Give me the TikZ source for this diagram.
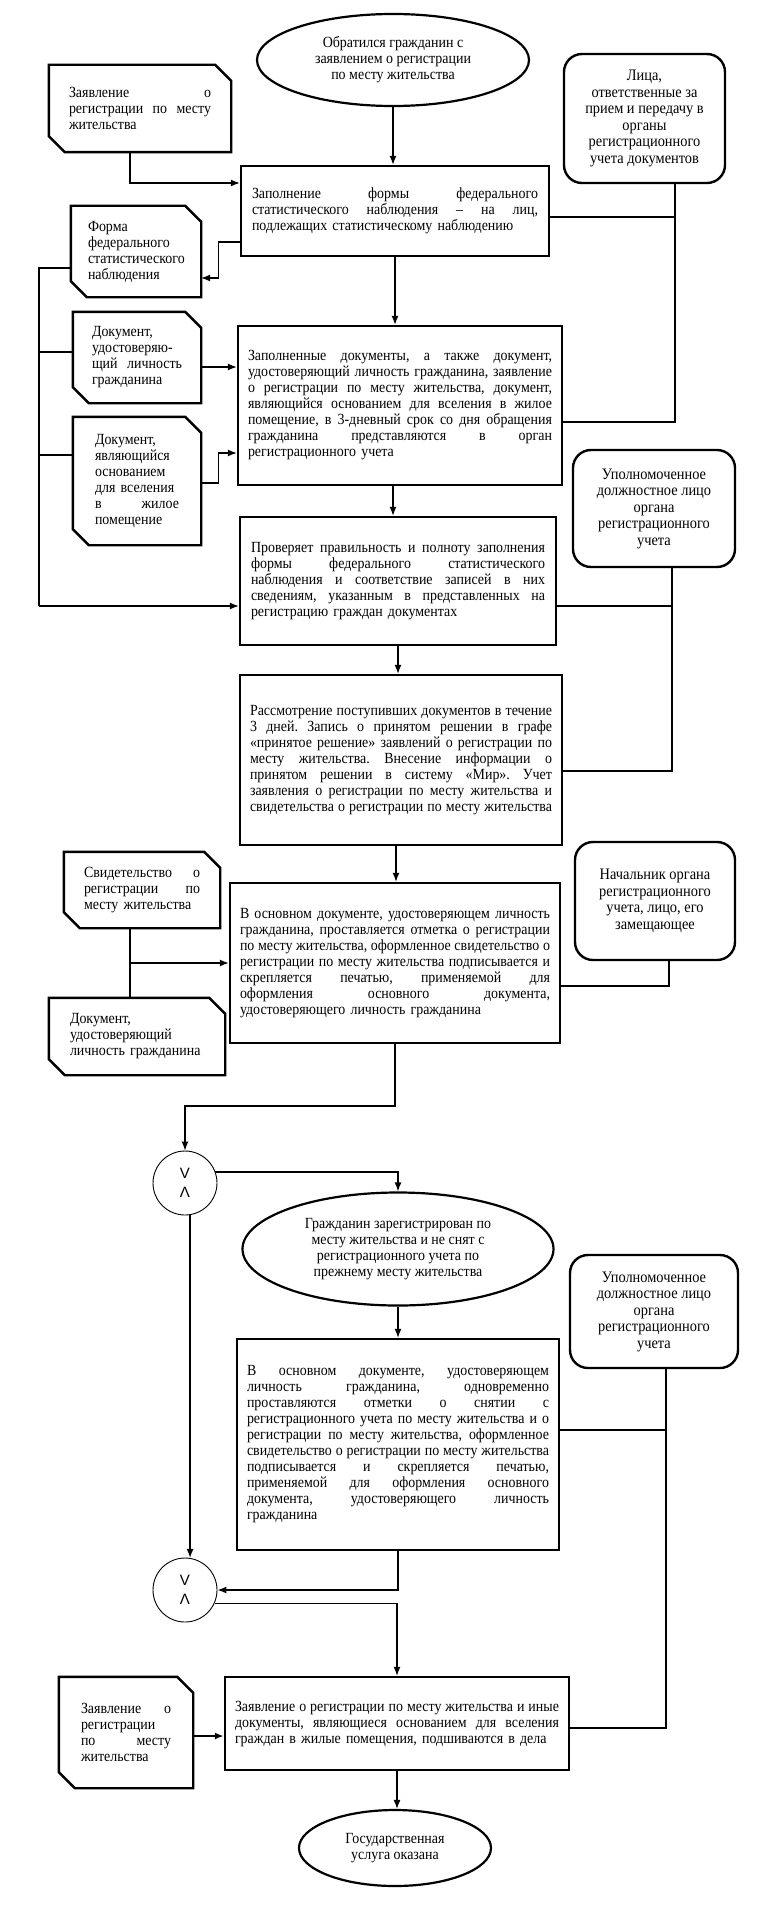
\documentclass[tikz,border=0pt]{standalone}
\usepackage{fontspec}
\setmainfont{Liberation Serif}[FakeStretch=0.9]
\newfontfamily\gatefont{Liberation Sans}
\usetikzlibrary{arrows.meta,shapes.geometric,calc}
\frenchspacing
\newcommand\boxfont{\fontsize{15.5}{16}\selectfont\frenchspacing}
\newcommand\rfont{\fontsize{16}{16.5}\selectfont\frenchspacing}
\newcommand\jl[1]{{\spaceskip=0pt\xspaceskip=0pt\makebox[\linewidth][s]{#1}}}
\newcommand\docfr[1]{\draw[docline] (#1.north west) -- ([xshift=-16pt]#1.north east) -- ([yshift=-16pt]#1.north east) -- (#1.south east) -- ([xshift=16pt]#1.south west) -- ([yshift=16pt]#1.south west) -- cycle;}
\tikzset{
 proc/.style={draw, line width=2.4pt, inner sep=0pt, align=left, font=\boxfont},
 docbox/.style={inner sep=0pt, align=left, font=\boxfont},
 docline/.style={line width=2.4pt, line join=miter},
 rbox/.style={draw, line width=2.4pt, rounded corners=18pt, inner sep=0pt, align=center, font=\rfont},
 oval/.style={draw, ellipse, line width=2.2pt, inner sep=0pt, align=center, font=\boxfont},
 gate/.style={draw, circle, line width=0.9pt, minimum size=64pt, inner sep=0pt, align=center, font=\gatefont\fontsize{15}{19}\selectfont},
 conn/.style={line width=1.3pt},
 arr/.style={conn, -{Latex[length=9pt,width=7pt]}},
}
\begin{document}
\begin{tikzpicture}[x=1pt,y=-1pt]
\fill[white] (0,0) rectangle (765,1905);
\useasboundingbox (0,0) rectangle (765,1905);

% ---------- nodes ----------
\node[oval, minimum width=272pt, minimum height=92pt] (E1) at (393,60) {Обратился гражданин с\\заявлением о регистрации\\по месту жительства};

\node[docbox, minimum width=182pt, minimum height=87pt, text width=142pt] (D1) at (140,108.5) {\jl{Заявление о}\\\jl{регистрации по месту}\\жительства};
\docfr{D1}

\node[rbox, minimum width=161pt, minimum height=129pt] (R1) at (644.5,118.5) {Лица,\\ответственные за\\прием и передачу в\\органы\\регистрационного\\учета документов};

\node[proc, minimum width=308pt, minimum height=90pt, text width=286pt] (B1) at (395,211) {\jl{Заполнение формы федерального}\\\jl{статистического наблюдения – на лиц,}\\подлежащих статистическому наблюдению};

\node[docbox, minimum width=130pt, minimum height=91pt, text width=96pt] (D2) at (136,251.5) {Форма\\федерального\\статистического\\наблюдения};
\docfr{D2}

\node[docbox, minimum width=128pt, minimum height=91pt, text width=90pt] (D3) at (137,357.5) {Документ,\\удостоверяю-\\\jl{щий личность}\\гражданина};
\docfr{D3}

\node[proc, minimum width=324pt, minimum height=159pt, text width=304pt] (B2) at (400,405.5) {\jl{Заполненные документы, а также документ,}\\\jl{удостоверяющий личность гражданина, заявление}\\\jl{о регистрации по месту жительства, документ,}\\\jl{являющийся основанием для вселения в жилое}\\\jl{помещение, в 3-дневный срок со дня обращения}\\\jl{гражданина представляются в орган}\\регистрационного учета};

\node[docbox, minimum width=128pt, minimum height=128pt, text width=84pt] (D4) at (137,481) {Документ,\\являющийся\\основанием\\для вселения\\\jl{в жилое}\\помещение};
\docfr{D4}

\node[rbox, minimum width=162pt, minimum height=117pt] (R2) at (654,508.5) {Уполномоченное\\должностное лицо\\органа\\регистрационного\\учета};

\node[proc, minimum width=316pt, minimum height=128pt, text width=294pt] (B3) at (398,581) {\jl{Проверяет правильность и полноту заполнения}\\\jl{формы федерального статистического}\\\jl{наблюдения и соответствие записей в них}\\\jl{сведениям, указанным в представленных на}\\регистрацию граждан документах};

\node[proc, minimum width=322pt, minimum height=170pt, text width=302pt] (B4) at (401,760) {\jl{Рассмотрение поступивших документов в течение}\\\jl{3 дней. Запись о принятом решении в графе}\\\jl{«принятое решение» заявлений о регистрации по}\\\jl{месту жительства. Внесение информации о}\\\jl{принятом решении в систему «Мир». Учет}\\\jl{заявления о регистрации по месту жительства и}\\\jl{свидетельства о регистрации по месту жительства}};

\node[docbox, minimum width=156pt, minimum height=76pt, text width=116pt] (D5) at (142,890) {\jl{Свидетельство о}\\\jl{регистрации по}\\месту жительства};
\docfr{D5}

\node[rbox, minimum width=160pt, minimum height=118pt] (R3) at (655,901) {Начальник органа\\регистрационного\\учета, лицо, его\\замещающее};

\node[proc, minimum width=330pt, minimum height=160pt, text width=310pt] (B5) at (395,963) {\jl{В основном документе, удостоверяющем личность}\\\jl{гражданина, проставляется отметка о регистрации}\\\jl{по месту жительства, оформленное свидетельство о}\\\jl{регистрации по месту жительства подписывается и}\\\jl{скрепляется печатью, применяемой для}\\\jl{оформления основного документа,}\\удостоверяющего личность гражданина};

\node[docbox, minimum width=176pt, minimum height=77pt, text width=134pt] (D6) at (137,1036.5) {Документ,\\удостоверяющий\\личность гражданина};
\docfr{D6}

\node[gate] (C1) at (185,1183) {V\\Λ};

\node[oval, minimum width=311pt, minimum height=113pt] (E2) at (398,1249) {Гражданин зарегистрирован по\\месту жительства и не снят с\\регистрационного учета по\\прежнему месту жительства};

\node[rbox, minimum width=168pt, minimum height=113pt] (R4) at (654,1311.5) {Уполномоченное\\должностное лицо\\органа\\регистрационного\\учета};

\node[proc, minimum width=322pt, minimum height=211pt, text width=302pt] (B6) at (398,1444.5) {\jl{В основном документе, удостоверяющем}\\\jl{личность гражданина, одновременно}\\\jl{проставляются отметки о снятии с}\\\jl{регистрационного учета по месту жительства и о}\\\jl{регистрации по месту жительства, оформленное}\\\jl{свидетельство о регистрации по месту жительства}\\\jl{подписывается и скрепляется печатью,}\\\jl{применяемой для оформления основного}\\\jl{документа, удостоверяющего личность}\\гражданина};

\node[gate] (C2) at (185,1590) {V\\Λ};

\node[docbox, minimum width=134pt, minimum height=111pt, text width=90pt] (D7) at (126,1732.5) {\jl{Заявление о}\\регистрации\\\jl{по месту}\\жительства};
\docfr{D7}

\node[proc, minimum width=344pt, minimum height=93pt, text width=324pt] (B7) at (397,1723.5) {\jl{Заявление о регистрации по месту жительства и иные}\\\jl{документы, являющиеся основанием для вселения}\\граждан в жилые помещения, подшиваются в дела};

\node[oval, minimum width=192pt, minimum height=76pt] (E3) at (395,1848) {Государственная\\услуга оказана};

% ---------- connectors ----------
\draw[arr] (E1.south) -- (E1.south |- B1.north);
\draw[arr] ([xshift=-10pt]D1.south) |- ([yshift=28pt]B1.west);

\coordinate (r1) at ([xshift=30.5pt]R1.south);
\coordinate (b1e) at ([yshift=-6pt]B1.east);
\draw[conn] (r1) |- ([yshift=-16.5pt]B2.east);
\draw[conn] (b1e) -- (b1e -| r1);

\coordinate (b1w) at ([yshift=-31pt]B1.west);
\draw[arr] (b1w) -- ++(-21,0) |- ([yshift=-26.5pt]D2.east);

\coordinate (d2w) at ([yshift=-16.5pt]D2.west);
\coordinate (lb) at (39,606);
\draw[conn] (d2w) -| (lb);
\draw[arr] (lb) -- (lb -| B3.west);
\coordinate (d3w) at ([yshift=5.5pt]D3.west);
\draw[conn] (d3w) -- (d3w -| lb);
\coordinate (d4w) at ([yshift=26pt]D4.west);
\draw[conn] (d4w) -- (d4w -| lb);

\draw[arr] (B1.south) -- (B1.south |- B2.north);

\coordinate (d3e) at ([yshift=-9.5pt]D3.east);
\draw[arr] (d3e) -- (d3e -| B2.west);
\draw[arr] ([yshift=-2pt]D4.east) -- ++(17,0) |- ([yshift=-47.5pt]B2.west);

\draw[arr] ([xshift=-7pt]B2.south) -- ([xshift=-7pt]B2.south |- B3.north);

\coordinate (r2) at ([xshift=18pt]R2.south);
\draw[conn] (r2) |- ([yshift=-11pt]B4.east);
\coordinate (b3e) at ([yshift=-25pt]B3.east);
\draw[conn] (b3e) -- (b3e -| r2);

\draw[arr] (B3.south) -- (B3.south |- B4.north);
\draw[arr] ([xshift=-5pt]B4.south) -- ([xshift=-5pt]B4.south |- B5.north);

\coordinate (d5s) at ([xshift=-12pt]D5.south);
\draw[conn] (d5s) -- (d5s |- D6.north);
\draw[arr] (d5s |- B5.west) -- (B5.west);

\coordinate (r3) at ([xshift=14pt]R3.south);
\draw[conn] (r3) |- ([yshift=-23pt]B5.east);

\coordinate (k1) at (0,1106);
\draw[arr] (B5.south) -- (B5.south |- k1) -| (C1.north);

\draw[arr] (C1.20) -| (E2.north);
\draw[arr] (C1.-81) -- (C2.81);

\draw[arr] (E2.south) -- (E2.south |- B6.north);

\coordinate (r4) at ([xshift=12pt]R4.south);
\draw[conn] (r4) |- ([yshift=-4.5pt]B7.east);
\coordinate (b6e) at ([yshift=14.5pt]B6.east);
\draw[conn] (b6e) -- (b6e -| r4);

\draw[arr] (B6.south) |- (C2.east);
\draw[arr] (C2.-24) -| (B7.north);

\coordinate (d7e) at ([yshift=-3.5pt]D7.east);
\draw[arr, line width=2.2pt] (d7e) -- (d7e -| B7.west);

\draw[arr] (B7.south) -- (B7.south |- E3.north);
\end{tikzpicture}
\end{document}
